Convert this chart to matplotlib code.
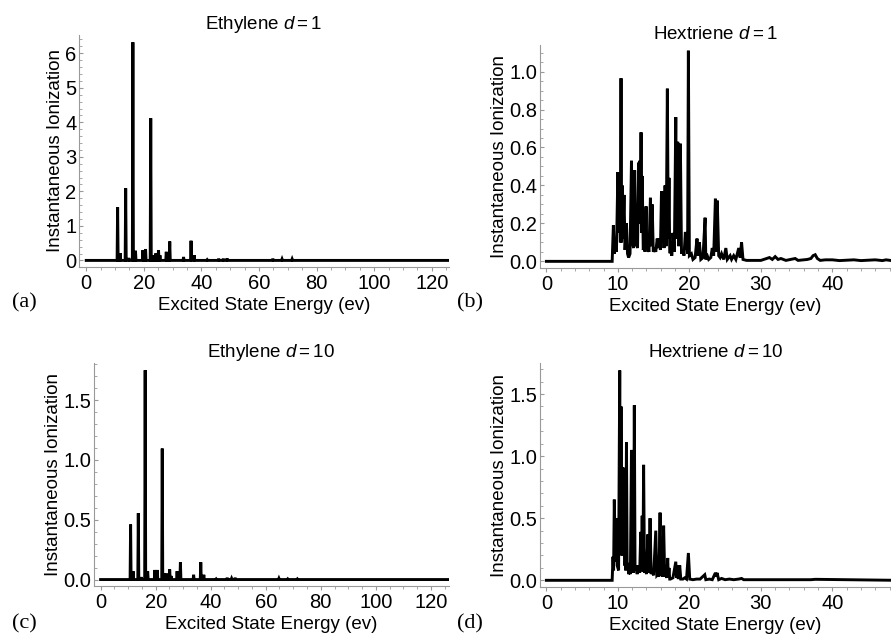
import numpy as np
import matplotlib.pyplot as plt
from matplotlib.ticker import MultipleLocator

plt.rcParams['font.family'] = 'Liberation Sans'
plt.rcParams['mathtext.fontset'] = 'custom'
plt.rcParams['mathtext.rm'] = 'Liberation Sans'
plt.rcParams['mathtext.it'] = 'Liberation Sans:italic'
plt.rcParams['font.size'] = 13

# ethylene excited states (eV) and ionization for d=1 and d=10
eth_e = [10.9, 11.8, 13.7, 14.8, 16.2, 17.1, 19.7, 20.6, 22.4, 23.2, 24.1, 25.1,
         25.6, 27.8, 29.0, 33.8, 36.4, 37.5, 42.0, 46.0, 47.6, 48.9, 64.8, 68.0, 71.5]
eth_d1 = [1.54, 0.21, 2.09, 0.07, 6.32, 0.28, 0.30, 0.33, 4.12, 0.15, 0.20, 0.30,
          0.15, 0.25, 0.55, 0.10, 0.57, 0.15, 0.02, 0.05, 0.05, 0.06, 0.05, 0.04, 0.04]
eth_d10 = [0.46, 0.07, 0.555, 0.02, 1.75, 0.07, 0.08, 0.08, 1.095, 0.05, 0.05, 0.085,
           0.03, 0.07, 0.145, 0.04, 0.145, 0.04, 0.005, 0.015, 0.01, 0.015, 0.01, 0.005, 0.005]

# hextriene spectrum, consecutive states (eV, ionization)
hex_e1 = [0, 9.2, 9.37, 9.5, 9.6, 9.8, 10.0, 10.1, 10.26, 10.35, 10.44, 10.52, 10.6, 10.7,
          10.86, 11.0, 11.2, 11.35, 11.5, 11.7, 11.9, 12.05, 12.2, 12.35, 12.5, 12.6, 12.75,
          12.9, 12.97, 13.05, 13.15, 13.24, 13.32, 13.4, 13.55, 13.7, 13.8, 13.94, 14.05,
          14.2, 14.35, 14.55, 14.65, 14.8, 14.95, 15.15, 15.3, 15.5, 15.65, 15.8, 15.95,
          16.1, 16.2, 16.3, 16.45, 16.6, 16.75, 16.92, 17.05, 17.15, 17.25, 17.4, 17.55,
          17.7, 17.9, 18.1, 18.22, 18.37, 18.5, 18.74, 18.9, 19.07, 19.25, 19.44, 19.53,
          19.63, 19.75, 19.86, 20.0, 20.28, 20.5, 20.8, 21.07, 21.2, 21.4, 21.6, 21.9, 22.2,
          22.3, 22.4, 22.7, 23.0, 23.2, 23.4, 23.64, 23.77, 23.9, 24.1, 24.3, 24.5, 24.8,
          25.1, 25.3, 25.7, 25.9, 26.2, 26.5, 26.9, 27.1, 27.3, 27.5, 28.0, 29.0, 30.0,
          30.8, 31.2, 31.6, 32.0, 32.4, 32.8, 33.5, 34.8, 35.2, 36.5, 37.0, 37.3, 37.6,
          37.9, 38.3, 39.0, 40.0, 41.0, 43.0, 44.0, 46.0, 47.0, 47.5, 48.3, 49.0]
hex_d1 = [0, 0, 0.19, 0.04, 0.08, 0.05, 0.47, 0.15, 0.42, 0.1, 0.965, 0.1, 0.4, 0.12,
          0.35, 0.06, 0.2, 0.04, 0.02, 0.04, 0.53, 0.1, 0.07, 0.48, 0.08, 0.1, 0.07,
          0.52, 0.25, 0.53, 0.2, 0.68, 0.15, 0.45, 0.06, 0.1, 0.05, 0.29, 0.07,
          0.07, 0.05, 0.335, 0.08, 0.3, 0.05, 0.07, 0.05, 0.12, 0.07, 0.12, 0.06,
          0.37, 0.1, 0.37, 0.07, 0.4, 0.08, 0.91, 0.12, 0.44, 0.05, 0.05, 0.03,
          0.15, 0.05, 0.76, 0.12, 0.63, 0.08, 0.62, 0.04, 0.06, 0.03, 0.155, 0.06,
          0.13, 0.04, 1.11, 0.03, 0.04, 0.01, 0.02, 0.12, 0.03, 0.1, 0.01, 0.02, 0.23,
          0.01, 0.04, 0.01, 0.02, 0.07, 0.03, 0.33, 0.05, 0.32, 0.03, 0.02, 0.04, 0.01,
          0.07, 0.01, 0.03, 0.01, 0.03, 0.01, 0.07, 0.02, 0.1, 0.01, 0.005, 0.005, 0.005,
          0.015, 0.02, 0.01, 0.025, 0.01, 0.015, 0.005, 0.015, 0.005, 0.01, 0.015, 0.03, 0.035,
          0.015, 0.005, 0.008, 0.008, 0.004, 0.008, 0.004, 0.008, 0.004, 0.008, 0.004, 0.0]

hex_e10 = [0, 9.2, 9.32, 9.4, 9.5, 9.65, 9.8, 9.9, 10.0, 10.1, 10.26, 10.35, 10.44, 10.55,
           10.7, 10.78, 10.86, 10.93, 11.0, 11.1, 11.2, 11.3, 11.4, 11.5, 11.65, 11.75,
           11.9, 12.0, 12.1, 12.2, 12.3, 12.4, 12.5, 12.7, 12.9, 13.05, 13.2, 13.3, 13.4,
           13.5, 13.6, 13.72, 13.85, 14.0, 14.2, 14.35, 14.5, 14.65, 14.8, 15.0, 15.3,
           15.45, 15.6, 15.75, 15.9, 16.0, 16.1, 16.25, 16.4, 16.55, 16.7, 16.85, 16.97,
           17.05, 17.15, 17.25, 17.35, 17.7, 18.1, 18.2, 18.3, 18.45, 18.65, 18.8, 19.1,
           19.35, 19.6, 19.86, 20.05, 20.5, 21.0, 21.5, 22.15, 22.3, 22.8, 23.2, 23.64,
           23.75, 23.87, 24.1, 24.5, 25.0, 25.6, 26.2, 26.9, 27.3, 27.6, 31.0, 32.0,
           37.0, 37.6, 49.0]
hex_d10 = [0, 0, 0.19, 0.08, 0.65, 0.15, 0.5, 0.12, 0.1, 0.08, 1.69, 0.35, 1.4, 0.2,
           0.91, 0.25, 0.9, 0.12, 0.15, 0.08, 1.11, 0.1, 0.14, 0.05, 0.07, 0.05,
           1.05, 0.08, 0.15, 0.06, 1.41, 0.08, 0.12, 0.05, 0.12, 0.06, 0.39, 0.08, 0.52,
           0.07, 0.93, 0.06, 0.1, 0.05, 0.37, 0.06, 0.5, 0.05, 0.08, 0.04, 0.4,
           0.04, 0.05, 0.03, 0.545, 0.04, 0.08, 0.03, 0.44, 0.03, 0.05, 0.02, 0.18,
           0.03, 0.1, 0.01, 0.01, 0.02, 0.15, 0.02, 0.12, 0.01, 0.12, 0.01, 0.01,
           0.02, 0.01, 0.22, 0.01, 0.005, 0.01, 0.01, 0.045, 0.005, 0.01, 0.005, 0.06,
           0.03, 0.06, 0.005, 0.015, 0.005, 0.01, 0.005, 0.01, 0.015, 0.005, 0.005, 0.005,
           0.005, 0.008, 0.0]


def spikes(e, h, w=0.18, xmax=127.0):
    # each ethylene state drawn as a narrow spike on the zero line
    xs, ys = [0.0], [0.0]
    for ei, hi in zip(e, h):
        xs += [ei - w, ei, ei + w]
        ys += [0.0, hi, 0.0]
    xs.append(xmax)
    ys.append(0.0)
    return xs, ys


fig = plt.figure(figsize=(8.91, 6.34), dpi=100)

panels = [
    # rect, x, y, title, xlim, ylim, xmaj, xmin, ymaj, ymin, label, labelpos
    ([0.0887, 0.5789, 0.4153, 0.3659], *spikes(eth_e, eth_d1), r'Ethylene $d=1$',
     (-2.5, 126), (-0.19, 6.53), 20, 5, 1, 0.2, '(a)', (0.013, 0.515)),
    ([0.606, 0.5773, 0.394, 0.3517], hex_e1, hex_d1, r'Hextriene $d=1$',
     (-0.9, 48.2), (-0.035, 1.14), 10, 2, 0.2, 0.05, '(b)', (0.513, 0.515)),
    ([0.1055, 0.0757, 0.3984, 0.3517], *spikes(eth_e, eth_d10), r'Ethylene $d=10$',
     (-2.4, 126.6), (-0.054, 1.81), 20, 5, 0.5, 0.1, '(c)', (0.013, 0.009)),
    ([0.606, 0.0741, 0.394, 0.3533], hex_e10, hex_d10, r'Hextriene $d=10$',
     (-0.9, 48.2), (-0.054, 1.75), 10, 2, 0.5, 0.1, '(d)', (0.513, 0.009)),
]

for (rect, x, y, title, xlim, ylim, xmaj, xmin, ymaj, ymin, lab, lpos) in panels:
    ax = fig.add_axes(rect)
    ax.plot(x, y, color='black', lw=2.1, solid_joinstyle='miter')
    ax.set_xlim(*xlim)
    ax.set_ylim(*ylim)
    ax.xaxis.set_major_locator(MultipleLocator(xmaj))
    ax.xaxis.set_minor_locator(MultipleLocator(xmin))
    ax.yaxis.set_major_locator(MultipleLocator(ymaj))
    ax.yaxis.set_minor_locator(MultipleLocator(ymin))
    if ymaj < 1:
        ax.yaxis.set_major_formatter(plt.FormatStrFormatter('%.1f'))
    for s in ['top', 'right']:
        ax.spines[s].set_visible(False)
    for s in ['left', 'bottom']:
        ax.spines[s].set_color('#999999')
        ax.spines[s].set_linewidth(0.8)
    ax.tick_params(axis='x', which='major', direction='out', length=3, color='#999999',
                   labelsize=14.5, pad=2)
    ax.tick_params(axis='x', which='minor', direction='out', length=1.8, color='#999999')
    ax.tick_params(axis='y', which='major', direction='in', length=3, color='#999999',
                   labelsize=14.5, pad=2)
    ax.tick_params(axis='y', which='minor', direction='in', length=1.8, color='#999999')
    ax.set_title(title, fontsize=13.5, pad=4)
    ax.set_xlabel('Excited State Energy (ev)', fontsize=13.5, labelpad=3)
    ax.set_ylabel('Instantaneous Ionization', fontsize=13.5, labelpad=1)
    fig.text(lpos[0], lpos[1], lab, family='Liberation Serif', fontsize=16)

fig.savefig('out.png', dpi=100)
